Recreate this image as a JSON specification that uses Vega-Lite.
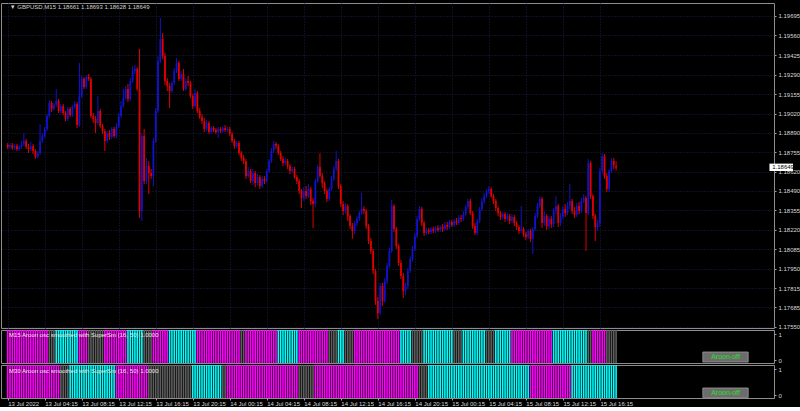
{
"$schema":"https://vega.github.io/schema/vega-lite/v6.json",
"background":"#000000",
"padding":{"left":0,"top":2,"right":0,"bottom":0},
"spacing":2,
"bounds":"flush",
"config":{"view":{"stroke":"#8c8c8c","strokeWidth":1},"text":{"font":"Liberation Sans Narrow, Liberation Sans, DejaVu Sans"},"axis":{"labelOverlap":false,"labelSeparation":0}},
"resolve":{"scale":{"x":"independent","y":"independent","color":"independent"}},
"datasets":{"bars":[
{"i":0,"o":1.18804,"h":1.18818,"l":1.18777,"c":1.18791,"a":"M","b":"M"},
{"i":1,"o":1.18791,"h":1.18818,"l":1.18777,"c":1.18804,"a":"M","b":"M"},
{"i":2,"o":1.18804,"h":1.18818,"l":1.18770,"c":1.18784,"a":"M","b":"M"},
{"i":3,"o":1.18784,"h":1.18811,"l":1.18770,"c":1.18797,"a":"M","b":"M"},
{"i":4,"o":1.18797,"h":1.18811,"l":1.18763,"c":1.18777,"a":"M","b":"M"},
{"i":5,"o":1.18777,"h":1.18804,"l":1.18763,"c":1.18791,"a":"M","b":"M"},
{"i":6,"o":1.18791,"h":1.18832,"l":1.18777,"c":1.18811,"a":"M","b":"M"},
{"i":7,"o":1.18811,"h":1.18887,"l":1.18797,"c":1.18832,"a":"M","b":"M"},
{"i":8,"o":1.18832,"h":1.18846,"l":1.18777,"c":1.18791,"a":"M","b":"M"},
{"i":9,"o":1.18791,"h":1.18811,"l":1.18749,"c":1.18777,"a":"M","b":"M"},
{"i":10,"o":1.18777,"h":1.18825,"l":1.18763,"c":1.18797,"a":"M","b":"M"},
{"i":11,"o":1.18797,"h":1.18811,"l":1.18742,"c":1.18763,"a":"M","b":"M"},
{"i":12,"o":1.18763,"h":1.18777,"l":1.18708,"c":1.18722,"a":"M","b":"M"},
{"i":13,"o":1.18722,"h":1.18763,"l":1.18715,"c":1.18749,"a":"M","b":"M"},
{"i":14,"o":1.18749,"h":1.18949,"l":1.18735,"c":1.18832,"a":"M","b":"M"},
{"i":15,"o":1.18832,"h":1.18887,"l":1.18818,"c":1.18866,"a":"M","b":"M"},
{"i":16,"o":1.18866,"h":1.18929,"l":1.18853,"c":1.18915,"a":"M","b":"M"},
{"i":17,"o":1.18915,"h":1.19018,"l":1.18901,"c":1.19004,"a":"M","b":"M"},
{"i":18,"o":1.19004,"h":1.19115,"l":1.18991,"c":1.19094,"a":"G","b":"M"},
{"i":19,"o":1.19094,"h":1.19108,"l":1.19032,"c":1.19053,"a":"G","b":"M"},
{"i":20,"o":1.19053,"h":1.19094,"l":1.19039,"c":1.19080,"a":"G","b":"M"},
{"i":21,"o":1.19080,"h":1.19191,"l":1.19067,"c":1.19108,"a":"C","b":"M"},
{"i":22,"o":1.19108,"h":1.19122,"l":1.19025,"c":1.19039,"a":"C","b":"M"},
{"i":23,"o":1.19039,"h":1.19087,"l":1.19025,"c":1.19073,"a":"C","b":"G"},
{"i":24,"o":1.19073,"h":1.19087,"l":1.19011,"c":1.19025,"a":"C","b":"G"},
{"i":25,"o":1.19025,"h":1.19039,"l":1.18970,"c":1.18984,"a":"C","b":"G"},
{"i":26,"o":1.18984,"h":1.19067,"l":1.18970,"c":1.19053,"a":"C","b":"G"},
{"i":27,"o":1.19053,"h":1.19067,"l":1.18998,"c":1.19011,"a":"C","b":"C"},
{"i":28,"o":1.19011,"h":1.19080,"l":1.18998,"c":1.19067,"a":"C","b":"C"},
{"i":29,"o":1.19067,"h":1.19108,"l":1.19053,"c":1.19087,"a":"C","b":"C"},
{"i":30,"o":1.19087,"h":1.19101,"l":1.18922,"c":1.18942,"a":"C","b":"C"},
{"i":31,"o":1.18942,"h":1.19370,"l":1.18929,"c":1.19142,"a":"M","b":"C"},
{"i":32,"o":1.19142,"h":1.19280,"l":1.19128,"c":1.19260,"a":"M","b":"C"},
{"i":33,"o":1.19260,"h":1.19273,"l":1.19191,"c":1.19205,"a":"M","b":"C"},
{"i":34,"o":1.19205,"h":1.19287,"l":1.19191,"c":1.19273,"a":"M","b":"C"},
{"i":35,"o":1.19273,"h":1.19294,"l":1.19246,"c":1.19260,"a":"G","b":"C"},
{"i":36,"o":1.19260,"h":1.19273,"l":1.18991,"c":1.19004,"a":"G","b":"C"},
{"i":37,"o":1.19004,"h":1.19025,"l":1.18956,"c":1.18984,"a":"G","b":"C"},
{"i":38,"o":1.18984,"h":1.19004,"l":1.18887,"c":1.18956,"a":"G","b":"C"},
{"i":39,"o":1.18956,"h":1.19142,"l":1.18942,"c":1.19039,"a":"G","b":"C"},
{"i":40,"o":1.19039,"h":1.19053,"l":1.18922,"c":1.18935,"a":"G","b":"C"},
{"i":41,"o":1.18935,"h":1.18949,"l":1.18880,"c":1.18901,"a":"G","b":"C"},
{"i":42,"o":1.18901,"h":1.18915,"l":1.18763,"c":1.18832,"a":"M","b":"C"},
{"i":43,"o":1.18832,"h":1.18901,"l":1.18818,"c":1.18887,"a":"M","b":"C"},
{"i":44,"o":1.18887,"h":1.18908,"l":1.18839,"c":1.18860,"a":"M","b":"C"},
{"i":45,"o":1.18860,"h":1.18929,"l":1.18846,"c":1.18915,"a":"M","b":"C"},
{"i":46,"o":1.18915,"h":1.18929,"l":1.18853,"c":1.18866,"a":"M","b":"C"},
{"i":47,"o":1.18866,"h":1.18956,"l":1.18853,"c":1.18935,"a":"M","b":"M"},
{"i":48,"o":1.18935,"h":1.19025,"l":1.18922,"c":1.19004,"a":"M","b":"M"},
{"i":49,"o":1.19004,"h":1.19108,"l":1.18991,"c":1.19073,"a":"M","b":"M"},
{"i":50,"o":1.19073,"h":1.19191,"l":1.19060,"c":1.19128,"a":"M","b":"M"},
{"i":51,"o":1.19128,"h":1.19211,"l":1.19115,"c":1.19191,"a":"M","b":"M"},
{"i":52,"o":1.19191,"h":1.19225,"l":1.19101,"c":1.19122,"a":"C","b":"M"},
{"i":53,"o":1.19122,"h":1.19266,"l":1.19108,"c":1.19246,"a":"C","b":"M"},
{"i":54,"o":1.19246,"h":1.19349,"l":1.19232,"c":1.19315,"a":"C","b":"M"},
{"i":55,"o":1.19315,"h":1.19356,"l":1.19294,"c":1.19329,"a":"C","b":"M"},
{"i":56,"o":1.19329,"h":1.19342,"l":1.19177,"c":1.19191,"a":"C","b":"M"},
{"i":57,"o":1.19191,"h":1.19467,"l":1.18301,"c":1.18349,"a":"C","b":"M"},
{"i":58,"o":1.18349,"h":1.18887,"l":1.18280,"c":1.18866,"a":"C","b":"M"},
{"i":59,"o":1.18866,"h":1.18915,"l":1.18535,"c":1.18556,"a":"G","b":"M"},
{"i":60,"o":1.18556,"h":1.18715,"l":1.18535,"c":1.18659,"a":"G","b":"M"},
{"i":61,"o":1.18659,"h":1.18694,"l":1.18466,"c":1.18611,"a":"G","b":"G"},
{"i":62,"o":1.18611,"h":1.18639,"l":1.18570,"c":1.18590,"a":"G","b":"G"},
{"i":63,"o":1.18590,"h":1.18853,"l":1.18521,"c":1.18832,"a":"M","b":"G"},
{"i":64,"o":1.18832,"h":1.19060,"l":1.18818,"c":1.19039,"a":"M","b":"G"},
{"i":65,"o":1.19039,"h":1.19418,"l":1.19025,"c":1.19384,"a":"M","b":"G"},
{"i":66,"o":1.19384,"h":1.19681,"l":1.19370,"c":1.19536,"a":"M","b":"G"},
{"i":67,"o":1.19536,"h":1.19577,"l":1.19398,"c":1.19418,"a":"M","b":"G"},
{"i":68,"o":1.19418,"h":1.19439,"l":1.19218,"c":1.19246,"a":"M","b":"G"},
{"i":69,"o":1.19246,"h":1.19266,"l":1.19177,"c":1.19211,"a":"M","b":"G"},
{"i":70,"o":1.19211,"h":1.19232,"l":1.19060,"c":1.19177,"a":"C","b":"G"},
{"i":71,"o":1.19177,"h":1.19246,"l":1.19163,"c":1.19232,"a":"C","b":"G"},
{"i":72,"o":1.19232,"h":1.19335,"l":1.19218,"c":1.19315,"a":"C","b":"G"},
{"i":73,"o":1.19315,"h":1.19404,"l":1.19301,"c":1.19370,"a":"C","b":"G"},
{"i":74,"o":1.19370,"h":1.19384,"l":1.19246,"c":1.19260,"a":"C","b":"G"},
{"i":75,"o":1.19260,"h":1.19315,"l":1.19246,"c":1.19294,"a":"C","b":"G"},
{"i":76,"o":1.19294,"h":1.19329,"l":1.19177,"c":1.19191,"a":"C","b":"G"},
{"i":77,"o":1.19191,"h":1.19266,"l":1.19177,"c":1.19246,"a":"C","b":"G"},
{"i":78,"o":1.19246,"h":1.19280,"l":1.19211,"c":1.19232,"a":"C","b":"G"},
{"i":79,"o":1.19232,"h":1.19246,"l":1.19128,"c":1.19142,"a":"C","b":"G"},
{"i":80,"o":1.19142,"h":1.19156,"l":1.19053,"c":1.19073,"a":"C","b":"C"},
{"i":81,"o":1.19073,"h":1.19191,"l":1.19060,"c":1.19163,"a":"C","b":"C"},
{"i":82,"o":1.19163,"h":1.19177,"l":1.19025,"c":1.19039,"a":"M","b":"C"},
{"i":83,"o":1.19039,"h":1.19060,"l":1.18984,"c":1.18998,"a":"M","b":"C"},
{"i":84,"o":1.18998,"h":1.19018,"l":1.18949,"c":1.18970,"a":"M","b":"C"},
{"i":85,"o":1.18970,"h":1.18991,"l":1.18894,"c":1.18915,"a":"M","b":"C"},
{"i":86,"o":1.18915,"h":1.18977,"l":1.18901,"c":1.18956,"a":"M","b":"C"},
{"i":87,"o":1.18956,"h":1.18970,"l":1.18880,"c":1.18894,"a":"M","b":"C"},
{"i":88,"o":1.18894,"h":1.18935,"l":1.18880,"c":1.18922,"a":"M","b":"C"},
{"i":89,"o":1.18922,"h":1.18935,"l":1.18894,"c":1.18908,"a":"M","b":"C"},
{"i":90,"o":1.18908,"h":1.18922,"l":1.18880,"c":1.18894,"a":"M","b":"C"},
{"i":91,"o":1.18894,"h":1.18929,"l":1.18853,"c":1.18915,"a":"M","b":"C"},
{"i":92,"o":1.18915,"h":1.18929,"l":1.18887,"c":1.18901,"a":"M","b":"C"},
{"i":93,"o":1.18901,"h":1.18935,"l":1.18887,"c":1.18922,"a":"M","b":"G"},
{"i":94,"o":1.18922,"h":1.18942,"l":1.18894,"c":1.18908,"a":"M","b":"G"},
{"i":95,"o":1.18908,"h":1.18929,"l":1.18894,"c":1.18915,"a":"M","b":"M"},
{"i":96,"o":1.18915,"h":1.18929,"l":1.18866,"c":1.18880,"a":"M","b":"M"},
{"i":97,"o":1.18880,"h":1.18894,"l":1.18818,"c":1.18832,"a":"M","b":"M"},
{"i":98,"o":1.18832,"h":1.18846,"l":1.18777,"c":1.18797,"a":"M","b":"M"},
{"i":99,"o":1.18797,"h":1.18832,"l":1.18784,"c":1.18818,"a":"M","b":"M"},
{"i":100,"o":1.18818,"h":1.18832,"l":1.18735,"c":1.18749,"a":"M","b":"M"},
{"i":101,"o":1.18749,"h":1.18763,"l":1.18694,"c":1.18715,"a":"G","b":"M"},
{"i":102,"o":1.18715,"h":1.18735,"l":1.18673,"c":1.18694,"a":"G","b":"M"},
{"i":103,"o":1.18694,"h":1.18708,"l":1.18570,"c":1.18590,"a":"M","b":"M"},
{"i":104,"o":1.18590,"h":1.18653,"l":1.18577,"c":1.18625,"a":"M","b":"M"},
{"i":105,"o":1.18625,"h":1.18639,"l":1.18542,"c":1.18556,"a":"M","b":"M"},
{"i":106,"o":1.18556,"h":1.18639,"l":1.18528,"c":1.18611,"a":"M","b":"M"},
{"i":107,"o":1.18611,"h":1.18625,"l":1.18514,"c":1.18542,"a":"M","b":"M"},
{"i":108,"o":1.18542,"h":1.18604,"l":1.18528,"c":1.18584,"a":"M","b":"M"},
{"i":109,"o":1.18584,"h":1.18597,"l":1.18501,"c":1.18521,"a":"M","b":"M"},
{"i":110,"o":1.18521,"h":1.18590,"l":1.18508,"c":1.18570,"a":"M","b":"M"},
{"i":111,"o":1.18570,"h":1.18590,"l":1.18535,"c":1.18556,"a":"M","b":"M"},
{"i":112,"o":1.18556,"h":1.18639,"l":1.18542,"c":1.18625,"a":"M","b":"M"},
{"i":113,"o":1.18625,"h":1.18708,"l":1.18611,"c":1.18694,"a":"M","b":"M"},
{"i":114,"o":1.18694,"h":1.18784,"l":1.18680,"c":1.18763,"a":"M","b":"M"},
{"i":115,"o":1.18763,"h":1.18832,"l":1.18749,"c":1.18811,"a":"M","b":"M"},
{"i":116,"o":1.18811,"h":1.18825,"l":1.18777,"c":1.18797,"a":"M","b":"M"},
{"i":117,"o":1.18797,"h":1.18811,"l":1.18735,"c":1.18749,"a":"C","b":"M"},
{"i":118,"o":1.18749,"h":1.18763,"l":1.18694,"c":1.18708,"a":"C","b":"M"},
{"i":119,"o":1.18708,"h":1.18728,"l":1.18659,"c":1.18680,"a":"C","b":"M"},
{"i":120,"o":1.18680,"h":1.18715,"l":1.18666,"c":1.18694,"a":"C","b":"M"},
{"i":121,"o":1.18694,"h":1.18708,"l":1.18639,"c":1.18659,"a":"C","b":"M"},
{"i":122,"o":1.18659,"h":1.18673,"l":1.18604,"c":1.18625,"a":"C","b":"M"},
{"i":123,"o":1.18625,"h":1.18653,"l":1.18611,"c":1.18639,"a":"C","b":"M"},
{"i":124,"o":1.18639,"h":1.18653,"l":1.18570,"c":1.18584,"a":"C","b":"M"},
{"i":125,"o":1.18584,"h":1.18597,"l":1.18535,"c":1.18556,"a":"C","b":"M"},
{"i":126,"o":1.18556,"h":1.18570,"l":1.18466,"c":1.18487,"a":"M","b":"G"},
{"i":127,"o":1.18487,"h":1.18501,"l":1.18370,"c":1.18439,"a":"M","b":"G"},
{"i":128,"o":1.18439,"h":1.18514,"l":1.18418,"c":1.18487,"a":"M","b":"G"},
{"i":129,"o":1.18487,"h":1.18521,"l":1.18432,"c":1.18452,"a":"M","b":"G"},
{"i":130,"o":1.18452,"h":1.18535,"l":1.18439,"c":1.18501,"a":"M","b":"G"},
{"i":131,"o":1.18501,"h":1.18514,"l":1.18390,"c":1.18418,"a":"M","b":"G"},
{"i":132,"o":1.18418,"h":1.18439,"l":1.18232,"c":1.18397,"a":"M","b":"G"},
{"i":133,"o":1.18397,"h":1.18570,"l":1.18377,"c":1.18556,"a":"M","b":"M"},
{"i":134,"o":1.18556,"h":1.18666,"l":1.18542,"c":1.18653,"a":"M","b":"M"},
{"i":135,"o":1.18653,"h":1.18749,"l":1.18577,"c":1.18590,"a":"M","b":"M"},
{"i":136,"o":1.18590,"h":1.18611,"l":1.18508,"c":1.18542,"a":"M","b":"M"},
{"i":137,"o":1.18542,"h":1.18556,"l":1.18466,"c":1.18487,"a":"M","b":"M"},
{"i":138,"o":1.18487,"h":1.18501,"l":1.18411,"c":1.18432,"a":"M","b":"M"},
{"i":139,"o":1.18432,"h":1.18514,"l":1.18418,"c":1.18501,"a":"G","b":"M"},
{"i":140,"o":1.18501,"h":1.18590,"l":1.18487,"c":1.18570,"a":"G","b":"M"},
{"i":141,"o":1.18570,"h":1.18659,"l":1.18556,"c":1.18639,"a":"G","b":"M"},
{"i":142,"o":1.18639,"h":1.18763,"l":1.18625,"c":1.18694,"a":"G","b":"M"},
{"i":143,"o":1.18694,"h":1.18708,"l":1.18501,"c":1.18521,"a":"C","b":"M"},
{"i":144,"o":1.18521,"h":1.18535,"l":1.18377,"c":1.18397,"a":"C","b":"M"},
{"i":145,"o":1.18397,"h":1.18418,"l":1.18321,"c":1.18349,"a":"C","b":"M"},
{"i":146,"o":1.18349,"h":1.18404,"l":1.18328,"c":1.18383,"a":"G","b":"M"},
{"i":147,"o":1.18383,"h":1.18397,"l":1.18280,"c":1.18314,"a":"G","b":"M"},
{"i":148,"o":1.18314,"h":1.18328,"l":1.18225,"c":1.18245,"a":"G","b":"M"},
{"i":149,"o":1.18245,"h":1.18266,"l":1.18156,"c":1.18211,"a":"G","b":"M"},
{"i":150,"o":1.18211,"h":1.18280,"l":1.18190,"c":1.18266,"a":"M","b":"M"},
{"i":151,"o":1.18266,"h":1.18314,"l":1.18245,"c":1.18294,"a":"M","b":"M"},
{"i":152,"o":1.18294,"h":1.18349,"l":1.18280,"c":1.18335,"a":"M","b":"M"},
{"i":153,"o":1.18335,"h":1.18473,"l":1.18321,"c":1.18363,"a":"M","b":"M"},
{"i":154,"o":1.18363,"h":1.18383,"l":1.18328,"c":1.18349,"a":"M","b":"M"},
{"i":155,"o":1.18349,"h":1.18363,"l":1.18225,"c":1.18245,"a":"M","b":"M"},
{"i":156,"o":1.18245,"h":1.18259,"l":1.18121,"c":1.18142,"a":"M","b":"M"},
{"i":157,"o":1.18142,"h":1.18163,"l":1.18052,"c":1.18073,"a":"M","b":"M"},
{"i":158,"o":1.18073,"h":1.18087,"l":1.17914,"c":1.17935,"a":"M","b":"M"},
{"i":159,"o":1.17935,"h":1.17949,"l":1.17700,"c":1.17728,"a":"M","b":"M"},
{"i":160,"o":1.17728,"h":1.17756,"l":1.17604,"c":1.17645,"a":"M","b":"M"},
{"i":161,"o":1.17645,"h":1.17852,"l":1.17631,"c":1.17831,"a":"M","b":"M"},
{"i":162,"o":1.17831,"h":1.17852,"l":1.17694,"c":1.17728,"a":"M","b":"M"},
{"i":163,"o":1.17728,"h":1.17887,"l":1.17714,"c":1.17866,"a":"M","b":"M"},
{"i":164,"o":1.17866,"h":1.17990,"l":1.17845,"c":1.17970,"a":"M","b":"M"},
{"i":165,"o":1.17970,"h":1.18094,"l":1.17956,"c":1.18073,"a":"M","b":"M"},
{"i":166,"o":1.18073,"h":1.18425,"l":1.18059,"c":1.18383,"a":"M","b":"M"},
{"i":167,"o":1.18383,"h":1.18397,"l":1.18204,"c":1.18225,"a":"M","b":"M"},
{"i":168,"o":1.18225,"h":1.18239,"l":1.18087,"c":1.18108,"a":"M","b":"M"},
{"i":169,"o":1.18108,"h":1.18121,"l":1.17970,"c":1.17990,"a":"M","b":"M"},
{"i":170,"o":1.17990,"h":1.18011,"l":1.17880,"c":1.17900,"a":"C","b":"M"},
{"i":171,"o":1.17900,"h":1.17921,"l":1.17749,"c":1.17797,"a":"C","b":"M"},
{"i":172,"o":1.17797,"h":1.17852,"l":1.17769,"c":1.17831,"a":"C","b":"M"},
{"i":173,"o":1.17831,"h":1.17956,"l":1.17811,"c":1.17935,"a":"C","b":"M"},
{"i":174,"o":1.17935,"h":1.18038,"l":1.17921,"c":1.18018,"a":"C","b":"M"},
{"i":175,"o":1.18018,"h":1.18108,"l":1.18004,"c":1.18087,"a":"G","b":"M"},
{"i":176,"o":1.18087,"h":1.18197,"l":1.18073,"c":1.18176,"a":"G","b":"M"},
{"i":177,"o":1.18176,"h":1.18314,"l":1.18163,"c":1.18294,"a":"G","b":"M"},
{"i":178,"o":1.18294,"h":1.18383,"l":1.18280,"c":1.18363,"a":"G","b":"G"},
{"i":179,"o":1.18363,"h":1.18377,"l":1.18245,"c":1.18266,"a":"G","b":"G"},
{"i":180,"o":1.18266,"h":1.18280,"l":1.18176,"c":1.18197,"a":"C","b":"G"},
{"i":181,"o":1.18197,"h":1.18232,"l":1.18183,"c":1.18218,"a":"C","b":"G"},
{"i":182,"o":1.18218,"h":1.18232,"l":1.18190,"c":1.18204,"a":"C","b":"C"},
{"i":183,"o":1.18204,"h":1.18239,"l":1.18190,"c":1.18225,"a":"C","b":"C"},
{"i":184,"o":1.18225,"h":1.18239,"l":1.18197,"c":1.18211,"a":"C","b":"C"},
{"i":185,"o":1.18211,"h":1.18245,"l":1.18197,"c":1.18232,"a":"C","b":"C"},
{"i":186,"o":1.18232,"h":1.18252,"l":1.18204,"c":1.18218,"a":"C","b":"C"},
{"i":187,"o":1.18218,"h":1.18252,"l":1.18204,"c":1.18239,"a":"C","b":"C"},
{"i":188,"o":1.18239,"h":1.18259,"l":1.18204,"c":1.18225,"a":"C","b":"C"},
{"i":189,"o":1.18225,"h":1.18273,"l":1.18211,"c":1.18252,"a":"C","b":"C"},
{"i":190,"o":1.18252,"h":1.18273,"l":1.18218,"c":1.18239,"a":"C","b":"C"},
{"i":191,"o":1.18239,"h":1.18287,"l":1.18225,"c":1.18273,"a":"C","b":"C"},
{"i":192,"o":1.18273,"h":1.18287,"l":1.18239,"c":1.18252,"a":"C","b":"C"},
{"i":193,"o":1.18252,"h":1.18294,"l":1.18239,"c":1.18280,"a":"G","b":"C"},
{"i":194,"o":1.18280,"h":1.18301,"l":1.18252,"c":1.18266,"a":"G","b":"C"},
{"i":195,"o":1.18266,"h":1.18321,"l":1.18252,"c":1.18301,"a":"G","b":"C"},
{"i":196,"o":1.18301,"h":1.18321,"l":1.18273,"c":1.18294,"a":"G","b":"C"},
{"i":197,"o":1.18294,"h":1.18349,"l":1.18280,"c":1.18328,"a":"C","b":"C"},
{"i":198,"o":1.18328,"h":1.18390,"l":1.18314,"c":1.18377,"a":"C","b":"C"},
{"i":199,"o":1.18377,"h":1.18432,"l":1.18363,"c":1.18418,"a":"C","b":"C"},
{"i":200,"o":1.18418,"h":1.18432,"l":1.18321,"c":1.18335,"a":"C","b":"C"},
{"i":201,"o":1.18335,"h":1.18349,"l":1.18225,"c":1.18245,"a":"C","b":"C"},
{"i":202,"o":1.18245,"h":1.18266,"l":1.18183,"c":1.18197,"a":"C","b":"C"},
{"i":203,"o":1.18197,"h":1.18294,"l":1.18183,"c":1.18280,"a":"C","b":"C"},
{"i":204,"o":1.18280,"h":1.18377,"l":1.18266,"c":1.18363,"a":"C","b":"C"},
{"i":205,"o":1.18363,"h":1.18439,"l":1.18349,"c":1.18418,"a":"C","b":"C"},
{"i":206,"o":1.18418,"h":1.18473,"l":1.18397,"c":1.18452,"a":"C","b":"C"},
{"i":207,"o":1.18452,"h":1.18501,"l":1.18439,"c":1.18487,"a":"G","b":"C"},
{"i":208,"o":1.18487,"h":1.18521,"l":1.18466,"c":1.18501,"a":"G","b":"C"},
{"i":209,"o":1.18501,"h":1.18514,"l":1.18439,"c":1.18452,"a":"G","b":"C"},
{"i":210,"o":1.18452,"h":1.18466,"l":1.18397,"c":1.18418,"a":"G","b":"C"},
{"i":211,"o":1.18418,"h":1.18432,"l":1.18349,"c":1.18370,"a":"C","b":"C"},
{"i":212,"o":1.18370,"h":1.18383,"l":1.18314,"c":1.18335,"a":"C","b":"C"},
{"i":213,"o":1.18335,"h":1.18349,"l":1.18287,"c":1.18308,"a":"C","b":"C"},
{"i":214,"o":1.18308,"h":1.18342,"l":1.18294,"c":1.18328,"a":"C","b":"C"},
{"i":215,"o":1.18328,"h":1.18342,"l":1.18273,"c":1.18294,"a":"C","b":"C"},
{"i":216,"o":1.18294,"h":1.18335,"l":1.18280,"c":1.18314,"a":"C","b":"C"},
{"i":217,"o":1.18314,"h":1.18328,"l":1.18259,"c":1.18280,"a":"C","b":"C"},
{"i":218,"o":1.18280,"h":1.18328,"l":1.18266,"c":1.18308,"a":"M","b":"C"},
{"i":219,"o":1.18308,"h":1.18321,"l":1.18245,"c":1.18266,"a":"M","b":"C"},
{"i":220,"o":1.18266,"h":1.18280,"l":1.18218,"c":1.18239,"a":"M","b":"C"},
{"i":221,"o":1.18239,"h":1.18252,"l":1.18190,"c":1.18211,"a":"M","b":"C"},
{"i":222,"o":1.18211,"h":1.18383,"l":1.18197,"c":1.18225,"a":"M","b":"C"},
{"i":223,"o":1.18225,"h":1.18239,"l":1.18170,"c":1.18190,"a":"M","b":"C"},
{"i":224,"o":1.18190,"h":1.18204,"l":1.18149,"c":1.18170,"a":"M","b":"C"},
{"i":225,"o":1.18170,"h":1.18225,"l":1.18156,"c":1.18211,"a":"M","b":"C"},
{"i":226,"o":1.18211,"h":1.18225,"l":1.18135,"c":1.18156,"a":"M","b":"M"},
{"i":227,"o":1.18156,"h":1.18239,"l":1.18052,"c":1.18225,"a":"M","b":"M"},
{"i":228,"o":1.18225,"h":1.18335,"l":1.18211,"c":1.18314,"a":"M","b":"M"},
{"i":229,"o":1.18314,"h":1.18404,"l":1.18301,"c":1.18383,"a":"M","b":"M"},
{"i":230,"o":1.18383,"h":1.18446,"l":1.18370,"c":1.18432,"a":"M","b":"M"},
{"i":231,"o":1.18432,"h":1.18446,"l":1.18232,"c":1.18266,"a":"M","b":"M"},
{"i":232,"o":1.18266,"h":1.18349,"l":1.18245,"c":1.18314,"a":"M","b":"M"},
{"i":233,"o":1.18314,"h":1.18328,"l":1.18218,"c":1.18245,"a":"M","b":"M"},
{"i":234,"o":1.18245,"h":1.18314,"l":1.18225,"c":1.18294,"a":"M","b":"M"},
{"i":235,"o":1.18294,"h":1.18314,"l":1.18232,"c":1.18259,"a":"M","b":"M"},
{"i":236,"o":1.18259,"h":1.18370,"l":1.18239,"c":1.18349,"a":"C","b":"M"},
{"i":237,"o":1.18349,"h":1.18452,"l":1.18328,"c":1.18383,"a":"C","b":"M"},
{"i":238,"o":1.18383,"h":1.18397,"l":1.18239,"c":1.18266,"a":"C","b":"M"},
{"i":239,"o":1.18266,"h":1.18335,"l":1.18245,"c":1.18314,"a":"C","b":"M"},
{"i":240,"o":1.18314,"h":1.18383,"l":1.18294,"c":1.18363,"a":"C","b":"M"},
{"i":241,"o":1.18363,"h":1.18397,"l":1.18308,"c":1.18335,"a":"C","b":"M"},
{"i":242,"o":1.18335,"h":1.18411,"l":1.18321,"c":1.18383,"a":"C","b":"M"},
{"i":243,"o":1.18383,"h":1.18535,"l":1.18363,"c":1.18418,"a":"C","b":"M"},
{"i":244,"o":1.18418,"h":1.18432,"l":1.18328,"c":1.18349,"a":"C","b":"C"},
{"i":245,"o":1.18349,"h":1.18377,"l":1.18301,"c":1.18321,"a":"C","b":"C"},
{"i":246,"o":1.18321,"h":1.18404,"l":1.18308,"c":1.18383,"a":"C","b":"C"},
{"i":247,"o":1.18383,"h":1.18411,"l":1.18328,"c":1.18349,"a":"C","b":"C"},
{"i":248,"o":1.18349,"h":1.18439,"l":1.18335,"c":1.18418,"a":"C","b":"C"},
{"i":249,"o":1.18418,"h":1.18466,"l":1.18404,"c":1.18439,"a":"C","b":"C"},
{"i":250,"o":1.18439,"h":1.18452,"l":1.18073,"c":1.18335,"a":"C","b":"C"},
{"i":251,"o":1.18335,"h":1.18708,"l":1.18321,"c":1.18680,"a":"G","b":"C"},
{"i":252,"o":1.18680,"h":1.18694,"l":1.18432,"c":1.18452,"a":"G","b":"C"},
{"i":253,"o":1.18452,"h":1.18466,"l":1.18294,"c":1.18314,"a":"M","b":"C"},
{"i":254,"o":1.18314,"h":1.18328,"l":1.18142,"c":1.18239,"a":"M","b":"C"},
{"i":255,"o":1.18239,"h":1.18287,"l":1.18211,"c":1.18266,"a":"M","b":"C"},
{"i":256,"o":1.18266,"h":1.18646,"l":1.18239,"c":1.18625,"a":"M","b":"C"},
{"i":257,"o":1.18625,"h":1.18749,"l":1.18604,"c":1.18728,"a":"M","b":"C"},
{"i":258,"o":1.18728,"h":1.18742,"l":1.18570,"c":1.18590,"a":"M","b":"C"},
{"i":259,"o":1.18590,"h":1.18611,"l":1.18480,"c":1.18501,"a":"G","b":"C"},
{"i":260,"o":1.18501,"h":1.18639,"l":1.18480,"c":1.18625,"a":"G","b":"C"},
{"i":261,"o":1.18625,"h":1.18715,"l":1.18611,"c":1.18694,"a":"G","b":"C"},
{"i":262,"o":1.18694,"h":1.18715,"l":1.18639,"c":1.18666,"a":"G","b":"C"},
{"i":263,"o":1.18661,"h":1.18693,"l":1.18628,"c":1.18649,"a":"G","b":"C"}
]},
"vconcat":[
{
"width":773,"height":325,
"layer":[
{"data":{"values":[{}]},
 "mark":{"type":"rule","color":"#22228a","strokeWidth":1},
 "encoding":{
  "x":{"field":"i","type":"quantitative","scale":{"domain":[-0.725,329.1],"nice":false,"zero":false},
       "axis":{"values":[0,16,32,48,64,80,96,112,128,144,160,176,192,208,224,240,256],"tickCount":40,"labels":false,"ticks":false,"domain":false,"grid":true,"gridColor":"#1c1c4c","gridDash":[1,2],"title":null,"minExtent":0,"maxExtent":0}},
  "y":{"datum":1.18649,"type":"quantitative","scale":{"domain":[1.17542,1.19784],"nice":false,"zero":false},
       "axis":{"orient":"right","values":[1.19695,1.1956,1.19425,1.1929,1.19155,1.1902,1.1889,1.18755,1.1862,1.1849,1.18355,1.1822,1.18085,1.1795,1.17815,1.17685,1.1755],"tickCount":40,
        "format":".5f","labelColor":"#d8d8d8","labelFont":"Liberation Sans Narrow, Liberation Sans","labelFontSize":6,"labelOverlap":false,"labelBound":false,"tickColor":"#a0a0a0","tickSize":2,"labelPadding":2,"domain":false,"grid":true,"gridColor":"#1c1c4c","gridDash":[1,2],"title":null}}
 }},
{"data":{"name":"bars"},
 "mark":{"type":"rule","strokeWidth":1},
 "encoding":{
  "x":{"field":"i","type":"quantitative","scale":{"domain":[-0.725,329.1],"nice":false,"zero":false}},
  "y":{"field":"l","type":"quantitative","scale":{"domain":[1.17542,1.19784],"nice":false,"zero":false}},
  "y2":{"field":"h"},
  "color":{"condition":{"test":"datum.c >= datum.o","value":"#1212cc"},"value":"#e00000"}
 }},
{"data":{"name":"bars"},
 "mark":{"type":"bar","size":1.8},
 "encoding":{
  "x":{"field":"i","type":"quantitative","scale":{"domain":[-0.725,329.1],"nice":false,"zero":false}},
  "y":{"field":"o","type":"quantitative","scale":{"domain":[1.17542,1.19784],"nice":false,"zero":false}},
  "y2":{"field":"c"},
  "color":{"condition":{"test":"datum.c >= datum.o","value":"#1212cc"},"value":"#e00000"}
 }},
{"data":{"values":[{"t":"▼ GBPUSD,M15  1.18661 1.18693 1.18628 1.18649"}]},
 "mark":{"type":"text","align":"left","baseline":"middle","color":"#d0d0d0","fontSize":6},
 "encoding":{
  "x":{"datum":0.9,"type":"quantitative","scale":{"domain":[-0.725,329.1],"nice":false,"zero":false}},
  "y":{"datum":1.19757,"type":"quantitative","scale":{"domain":[1.17542,1.19784],"nice":false,"zero":false}},
  "text":{"field":"t"}
 }},
{"data":{"values":[{"t":"1.18649"}]},
 "mark":{"type":"rect","color":"#ffffff"},
 "encoding":{
  "x":{"datum":329.3,"type":"quantitative","scale":{"domain":[-0.725,329.1],"nice":false,"zero":false}},
  "x2":{"datum":339.5},
  "y":{"datum":1.18676,"type":"quantitative","scale":{"domain":[1.17542,1.19784],"nice":false,"zero":false}},
  "y2":{"datum":1.18625}
 }},
{"data":{"values":[{"t":"1.18649"}]},
 "mark":{"type":"text","align":"left","baseline":"middle","color":"#000000","fontSize":6,"font":"Liberation Sans Narrow, Liberation Sans"},
 "encoding":{
  "x":{"datum":330.5,"type":"quantitative","scale":{"domain":[-0.725,329.1],"nice":false,"zero":false}},
  "y":{"datum":1.18651,"type":"quantitative","scale":{"domain":[1.17542,1.19784],"nice":false,"zero":false}},
  "text":{"field":"t"}
 }}
]
},
{
"width":773,"height":33,
"layer":[
{"data":{"name":"bars"},
 "mark":{"type":"bar","size":1.6},
 "encoding":{
  "x":{"field":"i","type":"quantitative","scale":{"domain":[-0.725,329.1],"nice":false,"zero":false},"axis":null},
  "y":{"datum":1.154,"type":"quantitative","scale":{"domain":[-0.115,1.154],"nice":false,"zero":false},
       "axis":{"orient":"right","values":[0,1],"tickCount":5,"format":"d","labelColor":"#d8d8d8","labelFont":"Liberation Sans Narrow, Liberation Sans","labelFontSize":6,"tickColor":"#a0a0a0","tickSize":2,"labelPadding":2,"domain":false,"grid":false,"title":null}},
  "y2":{"datum":-0.115},
  "color":{"field":"a","type":"nominal","scale":{"domain":["M","C","G"],"range":["#ff00ff","#00ffff","#5e5e5e"]},"legend":null}
 }},
{"data":{"values":[{"t":"M15 Aroon osc smoothed with SuperSm (16, 50) 1.0000"}]},
 "mark":{"type":"text","align":"left","baseline":"middle","color":"#e8e8e8","fontSize":6},
 "encoding":{
  "x":{"datum":0.6,"type":"quantitative","scale":{"domain":[-0.725,329.1],"nice":false,"zero":false}},
  "y":{"datum":0.96,"type":"quantitative","scale":{"domain":[-0.115,1.154],"nice":false,"zero":false}},
  "text":{"field":"t"}
 }},
{"data":{"values":[{"t":"Aroon-off"}]},
 "mark":{"type":"rect","color":"#6c6c6c","stroke":"#9a9a9a","strokeWidth":0.8},
 "encoding":{
  "x":{"datum":300.5,"type":"quantitative","scale":{"domain":[-0.725,329.1],"nice":false,"zero":false}},
  "x2":{"datum":320.1},
  "y":{"datum":0.308,"type":"quantitative","scale":{"domain":[-0.115,1.154],"nice":false,"zero":false}},
  "y2":{"datum":-0.08}
 }},
{"data":{"values":[{"t":"Aroon-off"}]},
 "mark":{"type":"text","align":"center","baseline":"middle","color":"#22e022","fontSize":7,"font":"Liberation Sans"},
 "encoding":{
  "x":{"datum":310.3,"type":"quantitative","scale":{"domain":[-0.725,329.1],"nice":false,"zero":false}},
  "y":{"datum":0.11,"type":"quantitative","scale":{"domain":[-0.115,1.154],"nice":false,"zero":false}},
  "text":{"field":"t"}
 }}
]
},
{
"width":773,"height":33,
"layer":[
{"data":{"name":"bars"},
 "mark":{"type":"bar","size":1.6},
 "encoding":{
  "x":{"field":"i","type":"quantitative","scale":{"domain":[-0.725,329.1],"nice":false,"zero":false},
       "axis":{"values":[0,16,32,48,64,80,96,112,128,144,160,176,192,208,224,240,256],"tickCount":40,
        "labelExpr":"['13 Jul 2022','13 Jul 04:15','13 Jul 08:15','13 Jul 12:15','13 Jul 16:15','13 Jul 20:15','14 Jul 00:15','14 Jul 04:15','14 Jul 08:15','14 Jul 12:15','14 Jul 16:15','14 Jul 20:15','15 Jul 00:15','15 Jul 04:15','15 Jul 08:15','15 Jul 12:15','15 Jul 16:15'][round(datum.value/16)]",
        "labelAlign":"left","labelColor":"#d8d8d8","labelFont":"Liberation Sans Narrow, Liberation Sans","labelFontSize":6,"labelPadding":0,"tickColor":"#a0a0a0","tickSize":2,"domain":false,"grid":false,"title":null,"labelOverlap":false}},
  "y":{"datum":1.154,"type":"quantitative","scale":{"domain":[-0.115,1.154],"nice":false,"zero":false},
       "axis":{"orient":"right","values":[0,1],"tickCount":5,"format":"d","labelColor":"#d8d8d8","labelFont":"Liberation Sans Narrow, Liberation Sans","labelFontSize":6,"tickColor":"#a0a0a0","tickSize":2,"labelPadding":2,"domain":false,"grid":false,"title":null}},
  "y2":{"datum":-0.115},
  "color":{"field":"b","type":"nominal","scale":{"domain":["M","C","G"],"range":["#ff00ff","#00ffff","#5e5e5e"]},"legend":null}
 }},
{"data":{"values":[{"t":"M30 Aroon osc smoothed with SuperSm (16, 50) 1.0000"}]},
 "mark":{"type":"text","align":"left","baseline":"middle","color":"#e8e8e8","fontSize":6},
 "encoding":{
  "x":{"datum":0.6,"type":"quantitative","scale":{"domain":[-0.725,329.1],"nice":false,"zero":false}},
  "y":{"datum":0.93,"type":"quantitative","scale":{"domain":[-0.115,1.154],"nice":false,"zero":false}},
  "text":{"field":"t"}
 }},
{"data":{"values":[{"t":"Aroon-off"}]},
 "mark":{"type":"rect","color":"#6c6c6c","stroke":"#9a9a9a","strokeWidth":0.8},
 "encoding":{
  "x":{"datum":300.5,"type":"quantitative","scale":{"domain":[-0.725,329.1],"nice":false,"zero":false}},
  "x2":{"datum":320.1},
  "y":{"datum":0.27,"type":"quantitative","scale":{"domain":[-0.115,1.154],"nice":false,"zero":false}},
  "y2":{"datum":-0.1}
 }},
{"data":{"values":[{"t":"Aroon-off"}]},
 "mark":{"type":"text","align":"center","baseline":"middle","color":"#22e022","fontSize":7,"font":"Liberation Sans"},
 "encoding":{
  "x":{"datum":310.3,"type":"quantitative","scale":{"domain":[-0.725,329.1],"nice":false,"zero":false}},
  "y":{"datum":0.08,"type":"quantitative","scale":{"domain":[-0.115,1.154],"nice":false,"zero":false}},
  "text":{"field":"t"}
 }}
]
}
]
}
